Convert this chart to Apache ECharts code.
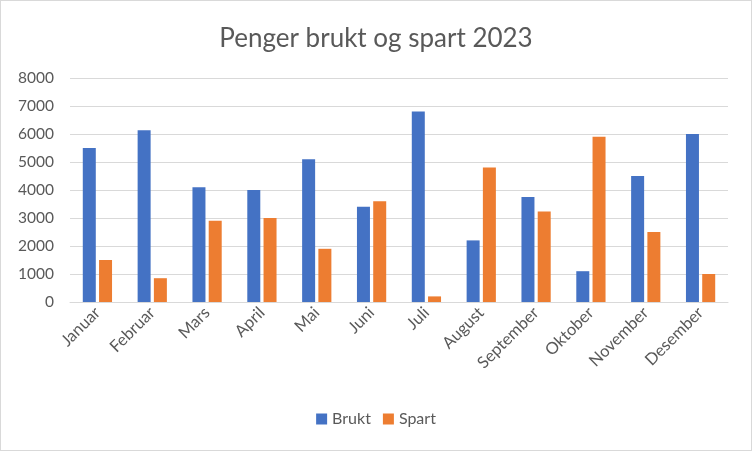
<!DOCTYPE html>
<html>
<head>
<meta charset="utf-8">
<script src="https://cdn.jsdelivr.net/npm/echarts@6/dist/echarts.min.js"></script>
<style>
    html, body { margin: 0; padding: 0; background: #fff; }
    .chart { width: 750px; height: 449px; border: 1px solid #d9d9d9; }
</style>
</head>
<body>
<div class="chart"></div>
<script>
var months = ['Januar', 'Februar', 'Mars', 'April', 'Mai', 'Juni', 'Juli', 'August', 'September', 'Oktober', 'November', 'Desember'];
var brukt = [5500, 6130, 4100, 4000, 5100, 3400, 6800, 2200, 3750, 1100, 4500, 6000];
var spart = [1500, 850, 2900, 3000, 1900, 3600, 200, 4800, 3230, 5900, 2500, 1000];
var yTicks = [0, 1000, 2000, 3000, 4000, 5000, 6000, 7000, 8000];

(function () {
    var myChart = echarts.init(document.querySelector('.chart'));
    var font = 'Lato, "Noto Sans", sans-serif';
    var option = {
        animation: false,
        color: ['#4472c4', '#ed7d31'],
        title: {
            text: 'Penger brukt og spart 2023',
            left: 'center',
            top: 20,
            textStyle: {
                color: '#595959',
                fontSize: 26,
                fontWeight: 'normal',
                fontFamily: font
            }
        },
        legend: {
            bottom: 18,
            left: 'center',
            icon: 'rect',
            itemWidth: 11,
            itemHeight: 11,
            itemGap: 12,
            textStyle: {
                color: '#595959',
                fontSize: 16,
                fontFamily: font
            }
        },
        grid: {
            left: 69,
            right: 23,
            top: 77,
            bottom: 148
        },
        xAxis: {
            type: 'category',
            data: months,
            axisTick: { show: false },
            axisLine: {
                lineStyle: { color: '#d9d9d9', width: 1 }
            },
            axisLabel: {
                rotate: 45,
                interval: 0,
                margin: 8,
                color: '#595959',
                fontSize: 16.5,
                fontFamily: font
            }
        },
        yAxis: {
            type: 'value',
            min: yTicks[0],
            max: yTicks[yTicks.length - 1],
            interval: 1000,
            axisLine: { show: false },
            axisTick: { show: false },
            axisLabel: {
                color: '#595959',
                fontSize: 15.5,
                margin: 16,
                fontFamily: font,
                formatter: function (v) { return String(v); }
            },
            splitLine: {
                lineStyle: { color: '#d9d9d9', width: 1 }
            }
        },
        series: [
            {
                name: 'Brukt',
                type: 'bar',
                data: brukt,
                barWidth: 13,
                barGap: '25%'
            },
            {
                name: 'Spart',
                type: 'bar',
                data: spart,
                barWidth: 13,
                barGap: '25%'
            }
        ]
    };
    myChart.setOption(option);
})();
</script>
</body>
</html>
